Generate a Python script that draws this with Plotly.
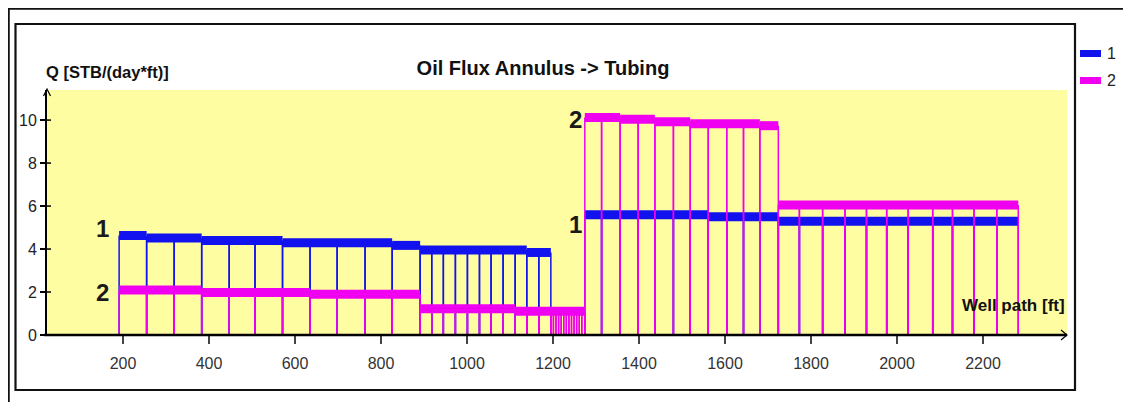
import plotly.graph_objects as go

# ---------------- data ----------------
x_tick_vals = [200, 400, 600, 800, 1000, 1200, 1400, 1600, 1800, 2000, 2200]
x_tick_text = ["200", "400", "600", "800", "1000", "1200", "1400", "1600", "1800", "2000", "2200"]
y_tick_vals = [0, 2, 4, 6, 8, 10]
y_tick_text = ["0", "2", "4", "6", "8", "10"]

# segment boundaries along the well path [ft]
segment_edges = [
    191, 255, 319, 383, 447, 507, 571, 635, 698, 763, 826, 891,
    918, 945, 973, 1001, 1029, 1056, 1084, 1112, 1139, 1167, 1195,
    1201, 1207, 1213, 1219, 1225, 1231, 1237, 1243, 1249, 1255, 1261, 1267, 1274,
    1313, 1356, 1398, 1437, 1480, 1519, 1561, 1604, 1643, 1681, 1724,
    1773, 1827, 1879, 1929, 1976, 2026, 2083, 2129, 2179, 2232, 2282,
]

# oil flux per segment, series "1"
flux_1 = [
    4.63, 4.51, 4.51, 4.40, 4.40, 4.40, 4.29, 4.29, 4.29, 4.29, 4.17,
    3.96, 3.96, 3.96, 3.96, 3.96, 3.96, 3.96, 3.96, 3.96, 3.84, 3.84,
    None, None, None, None, None, None, None, None, None, None, None, None, None,
    5.60, 5.60, 5.60, 5.60, 5.60, 5.60, 5.60, 5.50, 5.50, 5.50, 5.50,
    5.29, 5.29, 5.29, 5.29, 5.29, 5.29, 5.29, 5.29, 5.29, 5.29, 5.29,
]

# oil flux per segment, series "2"
flux_2 = [
    2.09, 2.09, 2.09, 1.98, 1.98, 1.98, 1.98, 1.90, 1.90, 1.90, 1.90,
    1.22, 1.22, 1.22, 1.22, 1.22, 1.22, 1.22, 1.22, 1.11, 1.11, 1.11,
    1.11, 1.11, 1.11, 1.11, 1.11, 1.11, 1.11, 1.11, 1.11, 1.11, 1.11, 1.11, 1.11,
    10.12, 10.12, 10.04, 10.04, 9.92, 9.92, 9.83, 9.83, 9.83, 9.83, 9.74,
    6.05, 6.05, 6.05, 6.05, 6.05, 6.05, 6.05, 6.05, 6.05, 6.05, 6.05,
]

series_names = ["1", "2"]
series_colors = ["#1212EE", "#F000F0"]

# ---------------- styles ----------------
FONT = "Liberation Sans, Arial, sans-serif"
OFF = 8  # page body margin
PAGE_W, PAGE_H = 1131, 402
W, H = PAGE_W - OFF, PAGE_H - OFF
# plot area in page pixels
PL, PR, PT, PB = 47, 1067, 90, 335
X_RANGE = [23.3, 2395.3]
Y_RANGE = [0, 11.4]


def px2x(px):
    return (px - PL) / (PR - PL)


def py2y(py):
    return (PB - py) / (PB - PT)


def build_paths(edges, values):
    hx, hy, vx, vy = [], [], [], []
    i = 0
    n = len(values)
    while i < n:
        v = values[i]
        if v is None:
            i += 1
            continue
        j = i
        while j + 1 < n and values[j + 1] == v:
            j += 1
        hx += [edges[i], edges[j + 1], None]
        hy += [v, v, None]
        i = j + 1
    for k, v in enumerate(values):
        if v is None:
            continue
        for e in (edges[k], edges[k + 1]):
            vx += [e, e, None]
            vy += [0, v, None]
    return hx, hy, vx, vy


fig = go.Figure()
for name, vals, col in zip(series_names, [flux_1, flux_2], series_colors):
    hx, hy, vx, vy = build_paths(segment_edges, vals)
    fig.add_trace(go.Scatter(x=vx, y=vy, mode="lines", line=dict(color=col, width=1.5),
                             showlegend=False, hoverinfo="skip", name=name))
    fig.add_trace(go.Scatter(x=hx, y=hy, mode="lines", line=dict(color=col, width=9),
                             showlegend=False, name=name))

fig.update_layout(
    width=W, height=H,
    margin=dict(l=PL - OFF, r=PAGE_W - PR, t=PT - OFF, b=PAGE_H - PB),
    paper_bgcolor="white",
    plot_bgcolor="#FFFDA2",
    font=dict(family=FONT, color="#222"),
    title=dict(text="<b>Oil Flux Annulus -> Tubing</b>", x=px2x(543), xref="paper", xanchor="center",
               y=1 - (68 - OFF) / H, yanchor="middle", font=dict(size=20, color="#111", family=FONT)),
)
fig.update_xaxes(range=X_RANGE, tickvals=x_tick_vals, ticktext=x_tick_text,
                 showgrid=False, zeroline=False, showline=False,
                 ticks="outside", ticklen=8, tickwidth=1.5, tickcolor="#444",
                 tickfont=dict(size=16, color="#333", family=FONT), ticklabelstandoff=6)
fig.update_yaxes(range=Y_RANGE, tickvals=y_tick_vals, ticktext=y_tick_text,
                 showgrid=False, zeroline=False, showline=True, linecolor="black", linewidth=2,
                 ticks="outside", ticklen=5, tickwidth=1.5, tickcolor="black",
                 tickfont=dict(size=16, color="#222", family=FONT))

shapes = []
# x axis line with arrow
shapes.append(dict(type="line", xref="paper", yref="paper", x0=px2x(44), x1=px2x(1067),
                   y0=0, y1=0, line=dict(color="black", width=2.5)))
shapes.append(dict(type="path", xref="paper", yref="paper",
                   path=f"M {px2x(1061)} {py2y(330)} L {px2x(1067)} {py2y(335)} L {px2x(1061)} {py2y(340)}",
                   line=dict(color="black", width=1.2)))
# y axis arrow
shapes.append(dict(type="path", xref="paper", yref="paper",
                   path=f"M {px2x(43.5)} {py2y(96)} L {px2x(47)} {py2y(89)} L {px2x(50.5)} {py2y(96)}",
                   line=dict(color="black", width=1.2)))
# y ticks crossing into the plot area
for v in y_tick_vals[1:]:
    shapes.append(dict(type="line", xref="paper", yref="y", x0=px2x(47), x1=px2x(51), y0=v, y1=v,
                       line=dict(color="black", width=1.5)))
# frames
shapes.append(dict(type="rect", xref="paper", yref="paper", x0=px2x(8.5), x1=px2x(1129), y0=py2y(415), y1=py2y(8.5),
                   line=dict(color="#111", width=2.5), layer="below"))
shapes.append(dict(type="rect", xref="paper", yref="paper", x0=px2x(15.5), x1=px2x(1075), y0=py2y(390), y1=py2y(24),
                   line=dict(color="#111", width=2.2), layer="below"))
# manual legend swatches
for i, col in enumerate(series_colors):
    yc = 53.5 + i * 27
    shapes.append(dict(type="rect", xref="paper", yref="paper", x0=px2x(1080), x1=px2x(1101),
                       y0=py2y(yc + 3.5), y1=py2y(yc - 3.5), line=dict(width=0), fillcolor=col))
fig.update_layout(shapes=shapes)

ann = []
ann.append(dict(text="<b>Q [STB/(day*ft)]</b>", xref="paper", yref="paper", x=px2x(44), y=py2y(72),
                xanchor="left", yanchor="middle", showarrow=False,
                font=dict(size=16.5, color="#111", family=FONT)))
ann.append(dict(text="<b>Well path [ft]</b>", xref="paper", yref="paper", x=px2x(1067), y=py2y(305),
                xanchor="right", yanchor="middle", showarrow=False,
                font=dict(size=17, color="#111", family=FONT)))
for i, name in enumerate(series_names):
    ann.append(dict(text=name, xref="paper", yref="paper", x=px2x(1105), y=py2y(53.5 + i * 27),
                    xanchor="left", yanchor="middle", showarrow=False,
                    font=dict(size=16, color="#222", family=FONT)))

# series labels next to blocks (anchored to the first segment of each block)
label_specs = [
    ("1", segment_edges[0], flux_1[0], -8, 7.5),
    ("2", segment_edges[0], flux_2[0], -8, -2),
    ("2", segment_edges[35], flux_2[35], -1, -1.5),
    ("1", segment_edges[35], flux_1[35], -1, -10),
]
for txt, xv, yv, xs, ys in label_specs:
    ann.append(dict(text=f"<b>{txt}</b>", x=xv, y=yv, xref="x", yref="y", xanchor="right", yanchor="middle",
                    xshift=xs, yshift=ys, showarrow=False,
                    font=dict(size=24, color="#1a1a1a", family=FONT)))
fig.update_layout(annotations=ann)

fig.write_html("out.html")
